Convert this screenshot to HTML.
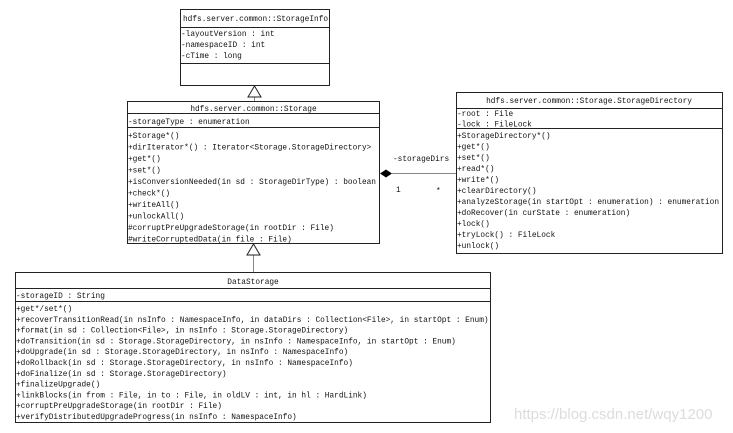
<!DOCTYPE html>
<html><head><meta charset="utf-8"><style>
html,body{margin:0;padding:0;background:#fff;}
svg{display:block}
text{font-family:"Liberation Mono",monospace;font-size:7.8px;fill:#111;}
</style></head><body>
<svg width="733" height="433" viewBox="0 0 733 433" xmlns="http://www.w3.org/2000/svg">
<g fill="none" stroke="#222" stroke-width="1">
<!-- StorageInfo -->
<rect x="180.5" y="9.5" width="149" height="76"/>
<line x1="180" y1="27.5" x2="330" y2="27.5"/>
<line x1="180" y1="63.5" x2="330" y2="63.5"/>
<!-- Storage -->
<rect x="127.5" y="101.5" width="252" height="142"/>
<line x1="127" y1="113.5" x2="380" y2="113.5"/>
<line x1="127" y1="127.5" x2="380" y2="127.5"/>
<!-- StorageDirectory -->
<rect x="456.5" y="92.5" width="266" height="161"/>
<line x1="456" y1="108.5" x2="723" y2="108.5"/>
<line x1="456" y1="128.5" x2="723" y2="128.5"/>
<!-- DataStorage -->
<rect x="15.5" y="272.5" width="475" height="150"/>
<line x1="15" y1="288.5" x2="491" y2="288.5"/>
<line x1="15" y1="301.5" x2="491" y2="301.5"/>
</g>
<!-- generalization connectors -->
<g stroke="#888" stroke-width="1" fill="#fff">
<line x1="254.5" y1="97" x2="254.5" y2="101"/>
<polygon points="254.5,86 248,97 261,97" stroke="#222"/>
<line x1="253.5" y1="255" x2="253.5" y2="272"/>
<polygon points="253.5,244 247,255 260,255" stroke="#222"/>
<line x1="392" y1="173.5" x2="456" y2="173.5"/>
</g>
<polygon points="380,173.5 386,169.5 392,173.5 386,177.5" fill="#000"/>
<text x="393" y="161">-storageDirs</text>
<text x="396" y="192">1</text>
<text x="436" y="193">*</text>

<!-- StorageInfo text -->
<text x="183" y="21">hdfs.server.common::StorageInfo</text>
<text x="181" y="36">-layoutVersion : int</text>
<text x="181" y="47">-namespaceID : int</text>
<text x="181" y="58">-cTime : long</text>

<!-- Storage text -->
<text x="253.5" y="111" text-anchor="middle">hdfs.server.common::Storage</text>
<text x="128" y="124">-storageType : enumeration</text>
<text x="128" y="138">+Storage*()</text>
<text x="128" y="149.5">+dirIterator*() : Iterator&lt;Storage.StorageDirectory&gt;</text>
<text x="128" y="161">+get*()</text>
<text x="128" y="172.5">+set*()</text>
<text x="128" y="184">+isConversionNeeded(in sd : StorageDirType) : boolean</text>
<text x="128" y="195.5">+check*()</text>
<text x="128" y="207">+writeAll()</text>
<text x="128" y="218.5">+unlockAll()</text>
<text x="128" y="230">#corruptPreUpgradeStorage(in rootDir : File)</text>
<text x="128" y="241.5">#writeCorruptedData(in file : File)</text>

<!-- StorageDirectory text -->
<text x="589" y="103" text-anchor="middle">hdfs.server.common::Storage.StorageDirectory</text>
<text x="457" y="116">-root : File</text>
<text x="457" y="126.5">-lock : FileLock</text>
<text x="457" y="138">+StorageDirectory*()</text>
<text x="457" y="149">+get*()</text>
<text x="457" y="160">+set*()</text>
<text x="457" y="171">+read*()</text>
<text x="457" y="182">+write*()</text>
<text x="457" y="193">+clearDirectory()</text>
<text x="457" y="204">+analyzeStorage(in startOpt : enumeration) : enumeration</text>
<text x="457" y="215">+doRecover(in curState : enumeration)</text>
<text x="457" y="226">+lock()</text>
<text x="457" y="237">+tryLock() : FileLock</text>
<text x="457" y="248">+unlock()</text>

<!-- DataStorage text -->
<text x="253" y="284" text-anchor="middle">DataStorage</text>
<text x="16" y="298">-storageID : String</text>
<text x="16" y="311">+get*/set*()</text>
<text x="16" y="321.8">+recoverTransitionRead(in nsInfo : NamespaceInfo, in dataDirs : Collection&lt;File&gt;, in startOpt : Enum)</text>
<text x="16" y="332.6">+format(in sd : Collection&lt;File&gt;, in nsInfo : Storage.StorageDirectory)</text>
<text x="16" y="343.4">+doTransition(in sd : Storage.StorageDirectory, in nsInfo : NamespaceInfo, in startOpt : Enum)</text>
<text x="16" y="354.2">+doUpgrade(in sd : Storage.StorageDirectory, in nsInfo : NamespaceInfo)</text>
<text x="16" y="365">+doRollback(in sd : Storage.StorageDirectory, in nsInfo : NamespaceInfo)</text>
<text x="16" y="375.8">+doFinalize(in sd : Storage.StorageDirectory)</text>
<text x="16" y="386.6">+finalizeUpgrade()</text>
<text x="16" y="397.4">+linkBlocks(in from : File, in to : File, in oldLV : int, in hl : HardLink)</text>
<text x="16" y="408.2">+corruptPreUpgradeStorage(in rootDir : File)</text>
<text x="16" y="419">+verifyDistributedUpgradeProgress(in nsInfo : NamespaceInfo)</text>

<text x="514" y="419" style="font-family:'Liberation Sans',sans-serif;font-size:15px;fill:#dcdcdc">https://blog.csdn.net/wqy1200</text>
</svg>
</body></html>
